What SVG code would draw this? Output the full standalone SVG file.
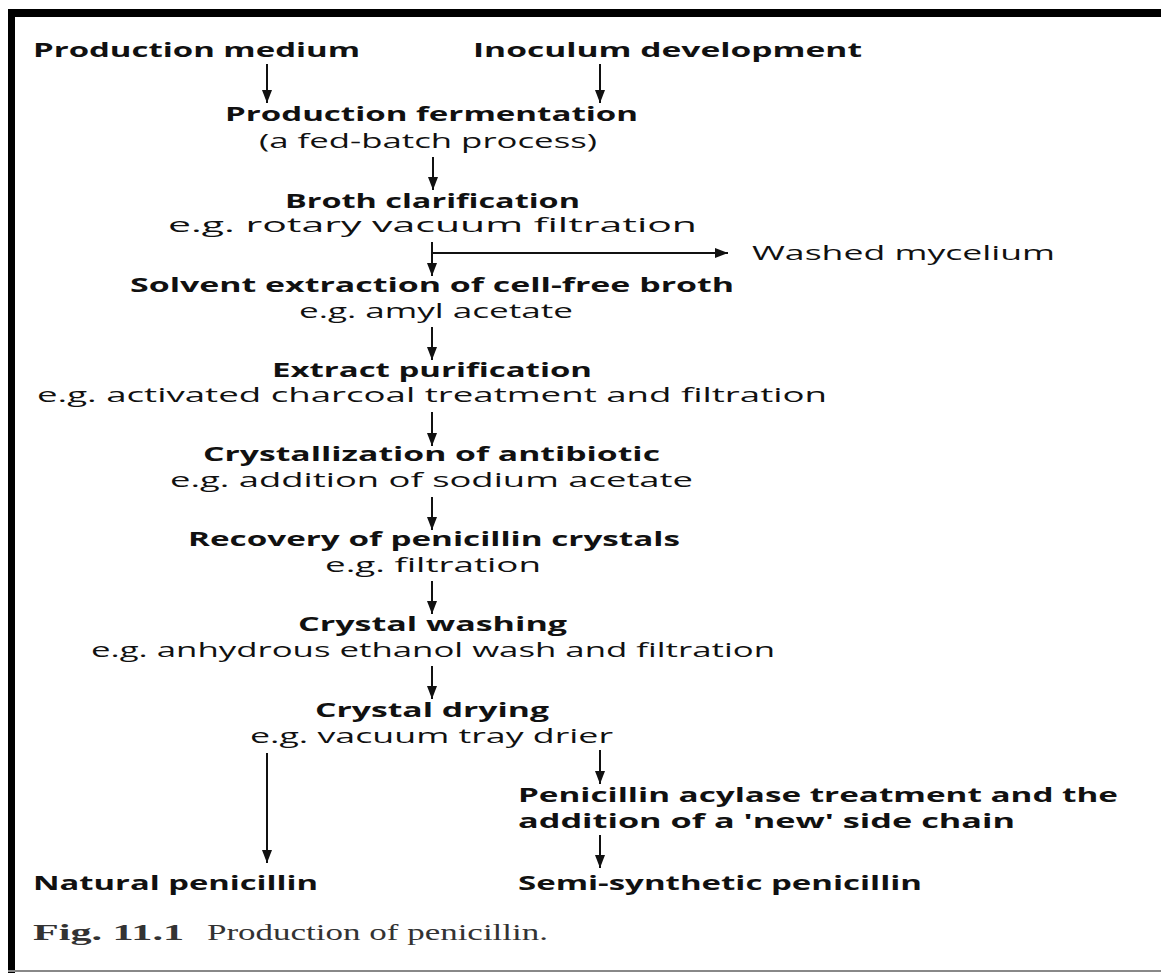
<svg xmlns="http://www.w3.org/2000/svg" width="1161" height="973" viewBox="0 0 1161 973">
<defs>
<marker id="ah" viewBox="0 0 13 10" refX="13" refY="5" markerWidth="13" markerHeight="10" orient="auto" markerUnits="userSpaceOnUse">
<path d="M0,0 L13,5 L0,10 z" fill="#111"/>
</marker>
</defs>
<style>
.b{font-family:"Open Sans","Liberation Sans",sans-serif;font-weight:bold;font-size:19px;fill:#111}
.r{font-family:"Open Sans","Liberation Sans",sans-serif;font-weight:normal;font-size:20px;fill:#111}
.c{font-family:"Liberation Serif",serif;font-size:24px;fill:#333}
.ar{stroke:#111;stroke-width:2;fill:none;marker-end:url(#ah)}
</style>
<rect width="1161" height="973" fill="#fff"/>
<g id="frame">
<rect x="8" y="9" width="1153" height="8" fill="#000"/>
<rect x="8" y="9" width="7" height="964" fill="#000"/>
<rect x="8" y="970" width="1153" height="2" fill="#888"/>
</g>
<g id="n-medium"><text class="b" x="33" y="57" textLength="327" lengthAdjust="spacingAndGlyphs">Production medium</text></g>
<g id="n-inoculum"><text class="b" x="473" y="57" textLength="389" lengthAdjust="spacingAndGlyphs">Inoculum development</text></g>
<g id="n-fermentation">
<text class="b" x="225" y="121" textLength="413" lengthAdjust="spacingAndGlyphs">Production fermentation</text>
<text class="r" x="259" y="148" textLength="338" lengthAdjust="spacingAndGlyphs">(a fed-batch process)</text>
</g>
<g id="n-clarification">
<text class="b" x="285" y="208" textLength="295" lengthAdjust="spacingAndGlyphs">Broth clarification</text>
<text class="r" x="168" y="232" textLength="529" lengthAdjust="spacingAndGlyphs">e.g. rotary vacuum filtration</text>
</g>
<g id="n-mycelium"><text class="r" x="752" y="260" textLength="303" lengthAdjust="spacingAndGlyphs">Washed mycelium</text></g>
<g id="n-extraction">
<text class="b" x="130" y="292" textLength="604" lengthAdjust="spacingAndGlyphs">Solvent extraction of cell-free broth</text>
<text class="r" x="299" y="318" textLength="274" lengthAdjust="spacingAndGlyphs">e.g. amyl acetate</text>
</g>
<g id="n-purification">
<text class="b" x="272" y="377" textLength="320" lengthAdjust="spacingAndGlyphs">Extract purification</text>
<text class="r" x="37" y="402" textLength="790" lengthAdjust="spacingAndGlyphs">e.g. activated charcoal treatment and filtration</text>
</g>
<g id="n-crystallization">
<text class="b" x="203" y="461" textLength="457" lengthAdjust="spacingAndGlyphs">Crystallization of antibiotic</text>
<text class="r" x="170" y="487" textLength="523" lengthAdjust="spacingAndGlyphs">e.g. addition of sodium acetate</text>
</g>
<g id="n-recovery">
<text class="b" x="188" y="546" textLength="492" lengthAdjust="spacingAndGlyphs">Recovery of penicillin crystals</text>
<text class="r" x="325" y="572" textLength="216" lengthAdjust="spacingAndGlyphs">e.g. filtration</text>
</g>
<g id="n-washing">
<text class="b" x="298" y="631" textLength="269" lengthAdjust="spacingAndGlyphs">Crystal washing</text>
<text class="r" x="91" y="657" textLength="684" lengthAdjust="spacingAndGlyphs">e.g. anhydrous ethanol wash and filtration</text>
</g>
<g id="n-drying">
<text class="b" x="315" y="717" textLength="234" lengthAdjust="spacingAndGlyphs">Crystal drying</text>
<text class="r" x="250" y="743" textLength="363" lengthAdjust="spacingAndGlyphs">e.g. vacuum tray drier</text>
</g>
<g id="n-acylase">
<text class="b" x="518" y="802" textLength="600" lengthAdjust="spacingAndGlyphs">Penicillin acylase treatment and the</text>
<text class="b" x="518" y="828" textLength="497" lengthAdjust="spacingAndGlyphs">addition of a 'new' side chain</text>
</g>
<g id="n-natural"><text class="b" x="33" y="890" textLength="285" lengthAdjust="spacingAndGlyphs">Natural penicillin</text></g>
<g id="n-semisynthetic"><text class="b" x="518" y="890" textLength="404" lengthAdjust="spacingAndGlyphs">Semi-synthetic penicillin</text></g>
<g id="caption">
<text class="c" x="33" y="940" font-weight="bold" textLength="151" lengthAdjust="spacingAndGlyphs">Fig. 11.1</text>
<text class="c" x="207" y="940" textLength="341" lengthAdjust="spacingAndGlyphs">Production of penicillin.</text>
</g>
<g id="connectors">
<line class="ar" x1="267" y1="64" x2="267" y2="103"/>
<line class="ar" x1="600" y1="64" x2="600" y2="103"/>
<line class="ar" x1="433" y1="157" x2="433" y2="190"/>
<line class="ar" x1="432" y1="242" x2="432" y2="276"/>
<line class="ar" x1="432" y1="253" x2="728" y2="253"/>
<line class="ar" x1="432" y1="327" x2="432" y2="360"/>
<line class="ar" x1="432" y1="412" x2="432" y2="446"/>
<line class="ar" x1="432" y1="497" x2="432" y2="530"/>
<line class="ar" x1="432" y1="581" x2="432" y2="614"/>
<line class="ar" x1="432" y1="666" x2="432" y2="699"/>
<line class="ar" x1="267" y1="753" x2="267" y2="863"/>
<line class="ar" x1="600" y1="750" x2="600" y2="784"/>
<line class="ar" x1="600" y1="835" x2="600" y2="868"/>
</g>
</svg>
